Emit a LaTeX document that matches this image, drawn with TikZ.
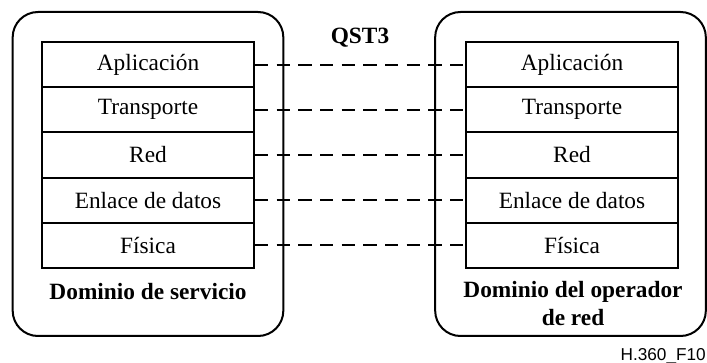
\documentclass[tikz,border=0pt]{standalone}
\usepackage{fontspec}
\setmainfont{Liberation Serif}
\newfontfamily\labelsans{Liberation Sans}
\begin{document}
\begin{tikzpicture}[x=0.75pt,y=-0.75pt,
  domainbox/.style={draw, line width=1.5pt, rounded corners=19pt, minimum width=203pt, minimum height=243pt, inner sep=0pt},
  layer/.style={draw, line width=1.5pt, minimum width=159pt, minimum height=33.9pt, inner sep=0pt, font=\fontsize{17.5}{20}\selectfont},
  domlabel/.style={font=\fontsize{17.5}{21}\selectfont\bfseries, align=center, inner sep=0pt},
  link/.style={line width=1.5pt, dash pattern=on 10pt off 6.25pt}
]
\useasboundingbox (0,0) rectangle (707,363);
% domain boxes
\node[domainbox] (LD) at (148,174) {};
\node[domainbox] (RD) at (570.5,174) {};
% layers left
\node[layer] (L1) at (148,64.6) {Aplicación};
\node[layer] (L2) at (148,109.8) {Transporte};
\node[layer] (L3) at (148,155) {Red};
\node[layer] (L4) at (148,200.2) {Enlace de datos};
\node[layer] (L5) at (148,245.4) {Física};
% layers right
\node[layer] (R1) at (572,64.6) {Aplicación};
\node[layer] (R2) at (572,109.8) {Transporte};
\node[layer] (R3) at (572,155) {Red};
\node[layer] (R4) at (572,200.2) {Enlace de datos};
\node[layer] (R5) at (572,245.4) {Física};
% labels
\node[domlabel] (LT) at (148,292) {Dominio de servicio};
\node[domlabel] (RT) at (573,304) {Dominio del operador\\de red};
\node[domlabel] (Q) at (360,38) {QST3};
\node[anchor=base east, inner sep=0pt, font=\labelsans\fontsize{12.9}{15}\selectfont] (F) at (706,360) {H.360\_F10};
% links
\foreach \i in {1,...,5} {
  \draw[link] (L\i.east) -- (R\i.west);
}
\end{tikzpicture}
\end{document}
